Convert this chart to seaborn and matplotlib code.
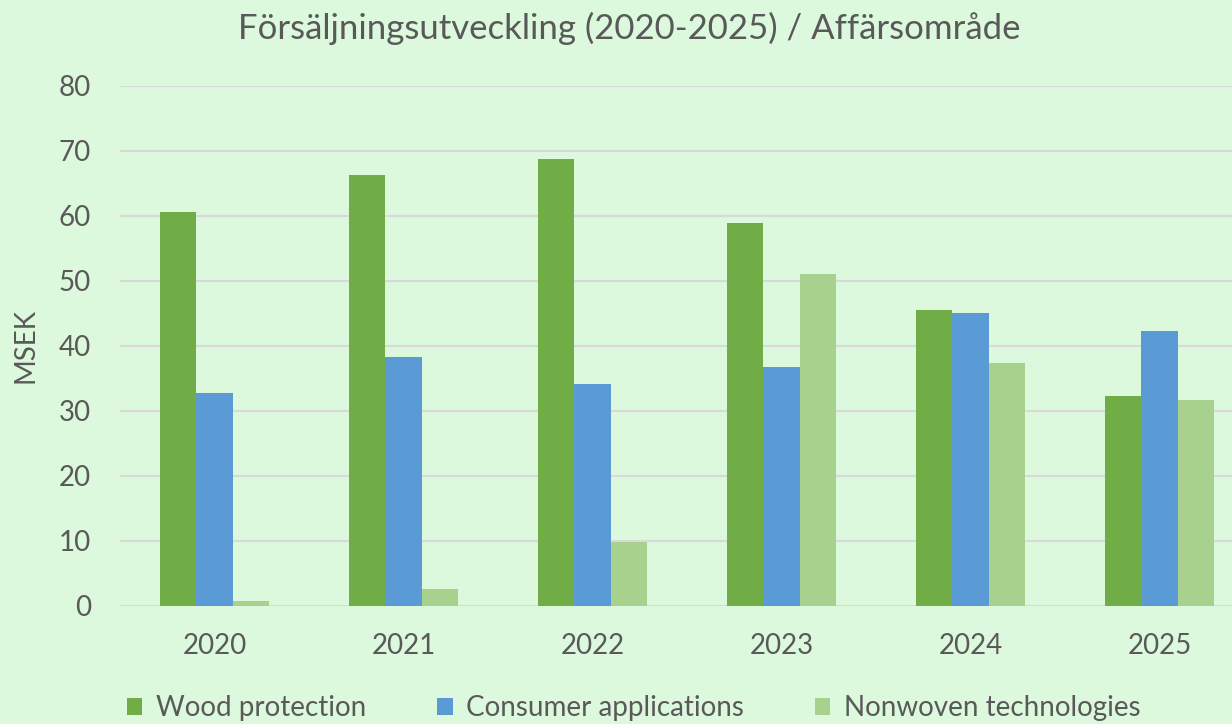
import matplotlib
matplotlib.use("Agg")
import matplotlib.pyplot as plt
import seaborn as sns
import pandas as pd

years = ["2020", "2021", "2022", "2023", "2024", "2025"]
wood_protection = [60.6, 66.3, 68.7, 58.9, 45.5, 32.3]
consumer_applications = [32.8, 38.3, 34.1, 36.7, 45.0, 42.3]
nonwoven_technologies = [0.7, 2.5, 9.8, 51.1, 37.4, 31.6]
series_names = ["Wood protection", "Consumer applications", "Nonwoven technologies"]
colors = ["#70AD47", "#5B9BD5", "#A9D18E"]
title = "Försäljningsutveckling (2020-2025) / Affärsområde"
ylabel = "MSEK"

rows = []
for name, vals in zip(series_names, [wood_protection, consumer_applications, nonwoven_technologies]):
    for y, v in zip(years, vals):
        rows.append({"Year": y, "Series": name, "Value": v})
df = pd.DataFrame(rows)

sns.set_theme(style="white")
plt.rcParams["font.family"] = ["Lato", "DejaVu Sans"]
bg = "#DDF9DD"
txt = "#595959"

fig = plt.figure(figsize=(12.32, 7.24), dpi=100, facecolor=bg)
ax = fig.add_axes([120 / 1232, 1 - 605.7 / 724, 1134 / 1232, (605.7 - 86) / 724])
ax.set_facecolor(bg)

sns.barplot(data=df, x="Year", y="Value", hue="Series", hue_order=series_names,
            palette=colors, width=0.58, linewidth=0, saturation=1, ax=ax, legend=True)

ax.set_ylim(0, 80)
ax.set_xlim(-0.5, len(years) - 0.5)
ax.set_yticks(range(0, 81, 10))
ax.yaxis.grid(True, color="#D9D9D9", linewidth=1.5)
ax.set_axisbelow(True)
for s in ax.spines.values():
    s.set_visible(False)
ax.tick_params(axis="both", length=0, labelsize=20, colors=txt)
ax.tick_params(axis="y", pad=21)
ax.tick_params(axis="x", pad=20)
ax.set_xlabel("")
ax.set_ylabel(ylabel, fontsize=20, color=txt)
ax.yaxis.set_label_coords(-82 / 1134, 0.5)

fig.text(629 / 1232, 1 - 28 / 724, title, ha="center", va="center", fontsize=25, color=txt)

handles, labels = ax.get_legend_handles_labels()
ax.legend_.remove()
leg = fig.legend(handles, labels, loc="center", bbox_to_anchor=(634 / 1232, 1 - 708 / 724),
                 ncol=3, frameon=False, fontsize=20, handlelength=0.55, handleheight=0.55,
                 handletextpad=0.5, columnspacing=2.55, labelcolor=txt)

fig.savefig("out.png", dpi=100, facecolor=bg)
